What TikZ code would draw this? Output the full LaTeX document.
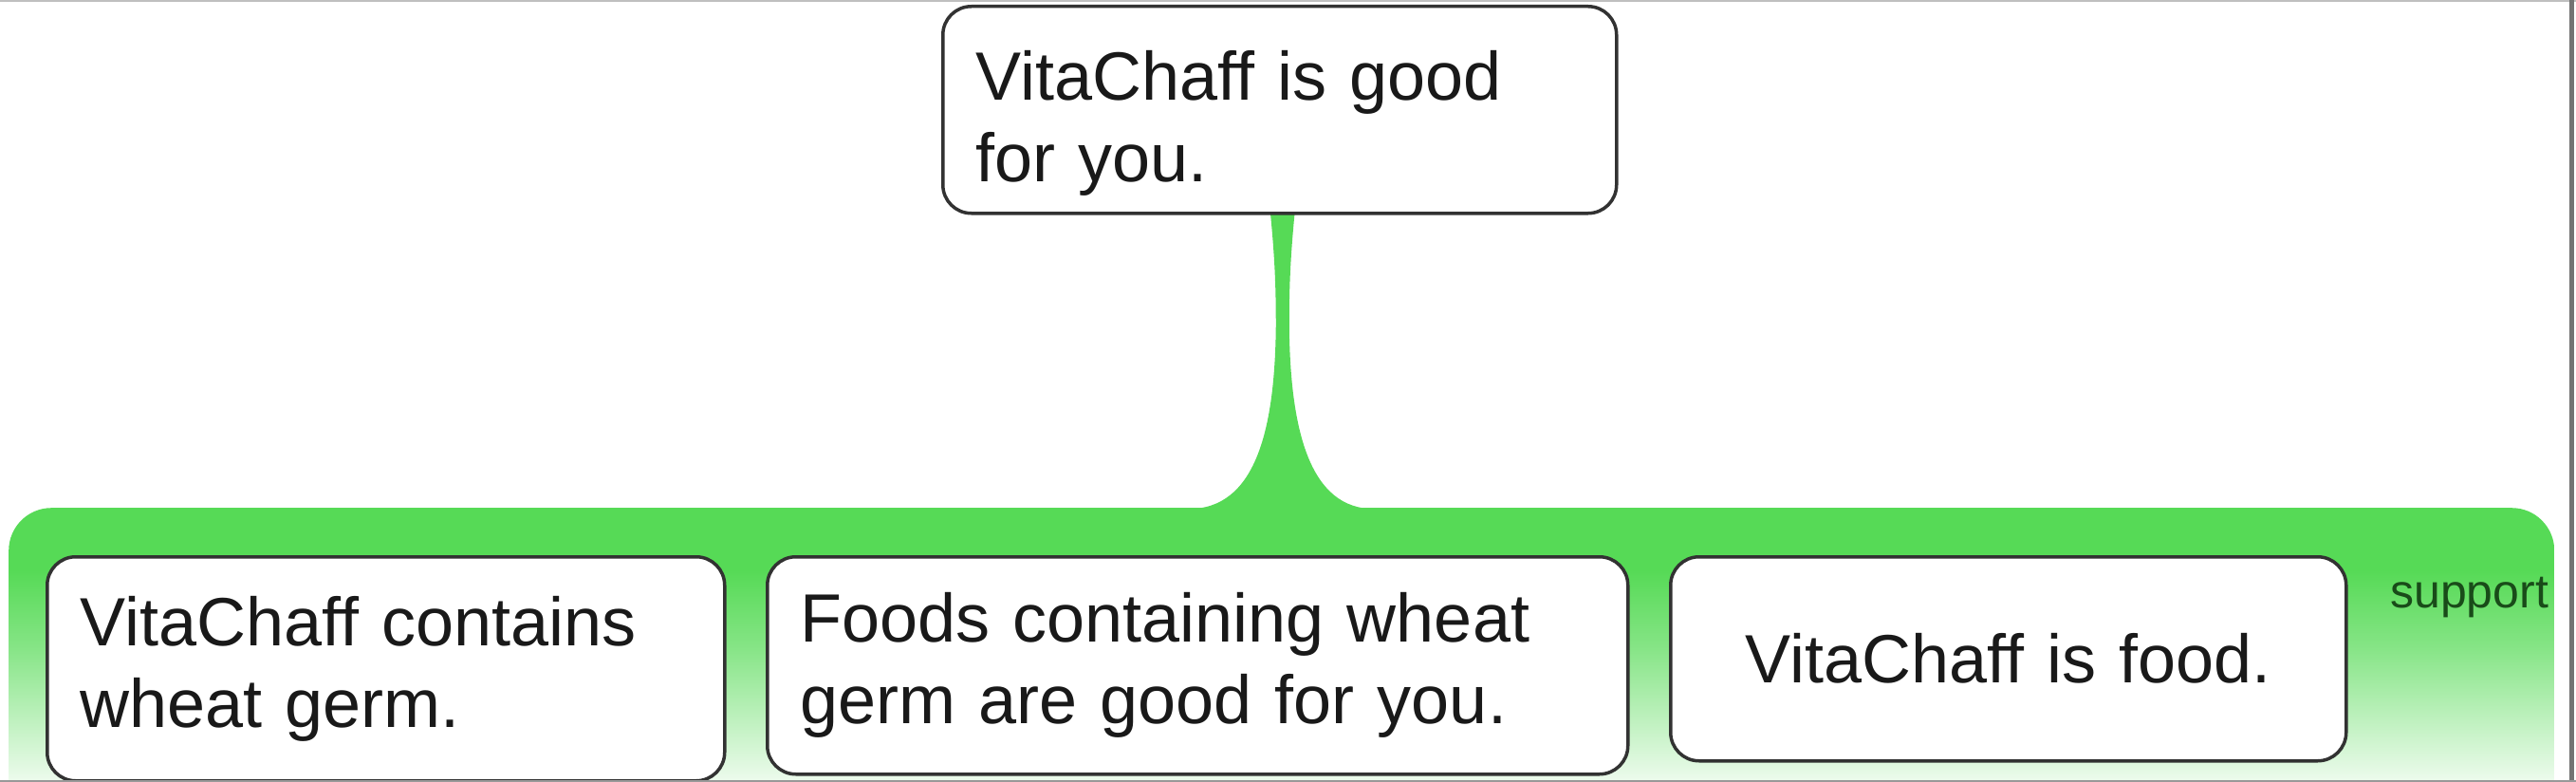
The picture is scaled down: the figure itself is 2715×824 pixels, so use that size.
\documentclass[tikz,border=0pt]{standalone}
\usepackage{fontspec}
\setmainfont{Liberation Sans}
\usetikzlibrary{calc}
\definecolor{grn}{RGB}{86,218,86}
\colorlet{grnA}{grn!12!white}
\colorlet{grnB}{grn!40!white}
\colorlet{grnC}{grn!72!white}
\definecolor{edge}{RGB}{50,50,50}
\definecolor{txt}{RGB}{25,25,25}
\definecolor{suptxt}{RGB}{25,75,25}
\pgfdeclareverticalshading{bandshade}{100bp}{color(0bp)=(grnA); color(25bp)=(grnA); color(36bp)=(grnA); color(45bp)=(grnB); color(55bp)=(grnC); color(66bp)=(grn); color(100bp)=(grn)}
\newcommand{\bigtxt}{\fontsize{72}{86}\selectfont}
\pgfdeclarelayer{bg}
\pgfsetlayers{bg,main}
\begin{document}
\begin{tikzpicture}[x=1pt,y=-1pt,
  box/.style={draw=edge, line width=3.5pt, rounded corners=30pt, fill=white,
    inner xsep=35pt, inner ysep=0pt, align=left, text=txt, font=\bigtxt, anchor=north west},
  band/.style={shade, shading=bandshade, rounded corners=45pt, inner sep=0pt, anchor=north west},
  stem/.style={fill=grn},
  frameline/.style={draw=black!45, line width=3pt}
]
\useasboundingbox (0,0) rectangle (2715,824);
\clip (0,0) rectangle (2715,824);
% top claim
\node[box, minimum width=710pt, minimum height=218pt, text width=640pt] (claim) at (992,5)
  {\rule{0pt}{80pt}VitaChaff is good\\for you.};
% premises
\node[box, minimum width=714pt, minimum height=236pt, text width=644pt] (p1) at (48,585)
  {VitaChaff contains\\wheat germ.};
\node[box, minimum width=907pt, minimum height=229pt, text width=837pt] (p2) at (807,585)
  {Foods containing wheat\\germ are good for you.};
\node[box, minimum width=712pt, minimum height=215pt, text width=642pt, align=center] (p3) at (1759,585)
  {VitaChaff is food.};
\node[font=\fontsize{50}{60}\selectfont, text=suptxt, anchor=base west, inner sep=0pt] (sup) at (2519,640) {support};
\begin{pgfonlayer}{bg}
\fill[white] (0,0) rectangle (2715,824);
% band
\node[band, minimum width=2683pt, minimum height=365pt] (band) at (9,535) {};
% stem connector from claim to band
\coordinate (s) at ($(claim.south)+(3,0)$);
\fill[stem] ($(s)+(-13,-4)$) .. controls ($(s)+(-8,47)$) and ($(s)+(-7,77)$) .. ($(s)+(-7,117)$)
  .. controls ($(s)+(-8,217)$) and ($(s)+(-25,305)$) .. ($(band.north)+(-92,1)$)
  -- ($(band.north)+(92,1)$)
  .. controls ($(s)+(25,305)$) and ($(s)+(8,217)$) .. ($(s)+(7,117)$)
  .. controls ($(s)+(7,77)$) and ($(s)+(8,47)$) .. ($(s)+(13,-4)$) -- cycle;
\end{pgfonlayer}
% screenshot frame
\draw[frameline, draw=black!25] (0,1) -- (2715,1);
\draw[frameline, line width=5pt, draw=black!55] (2710,0) -- (2710,824);
\draw[frameline, draw=black!40] (0,823) -- (2715,823);
\end{tikzpicture}
\end{document}
